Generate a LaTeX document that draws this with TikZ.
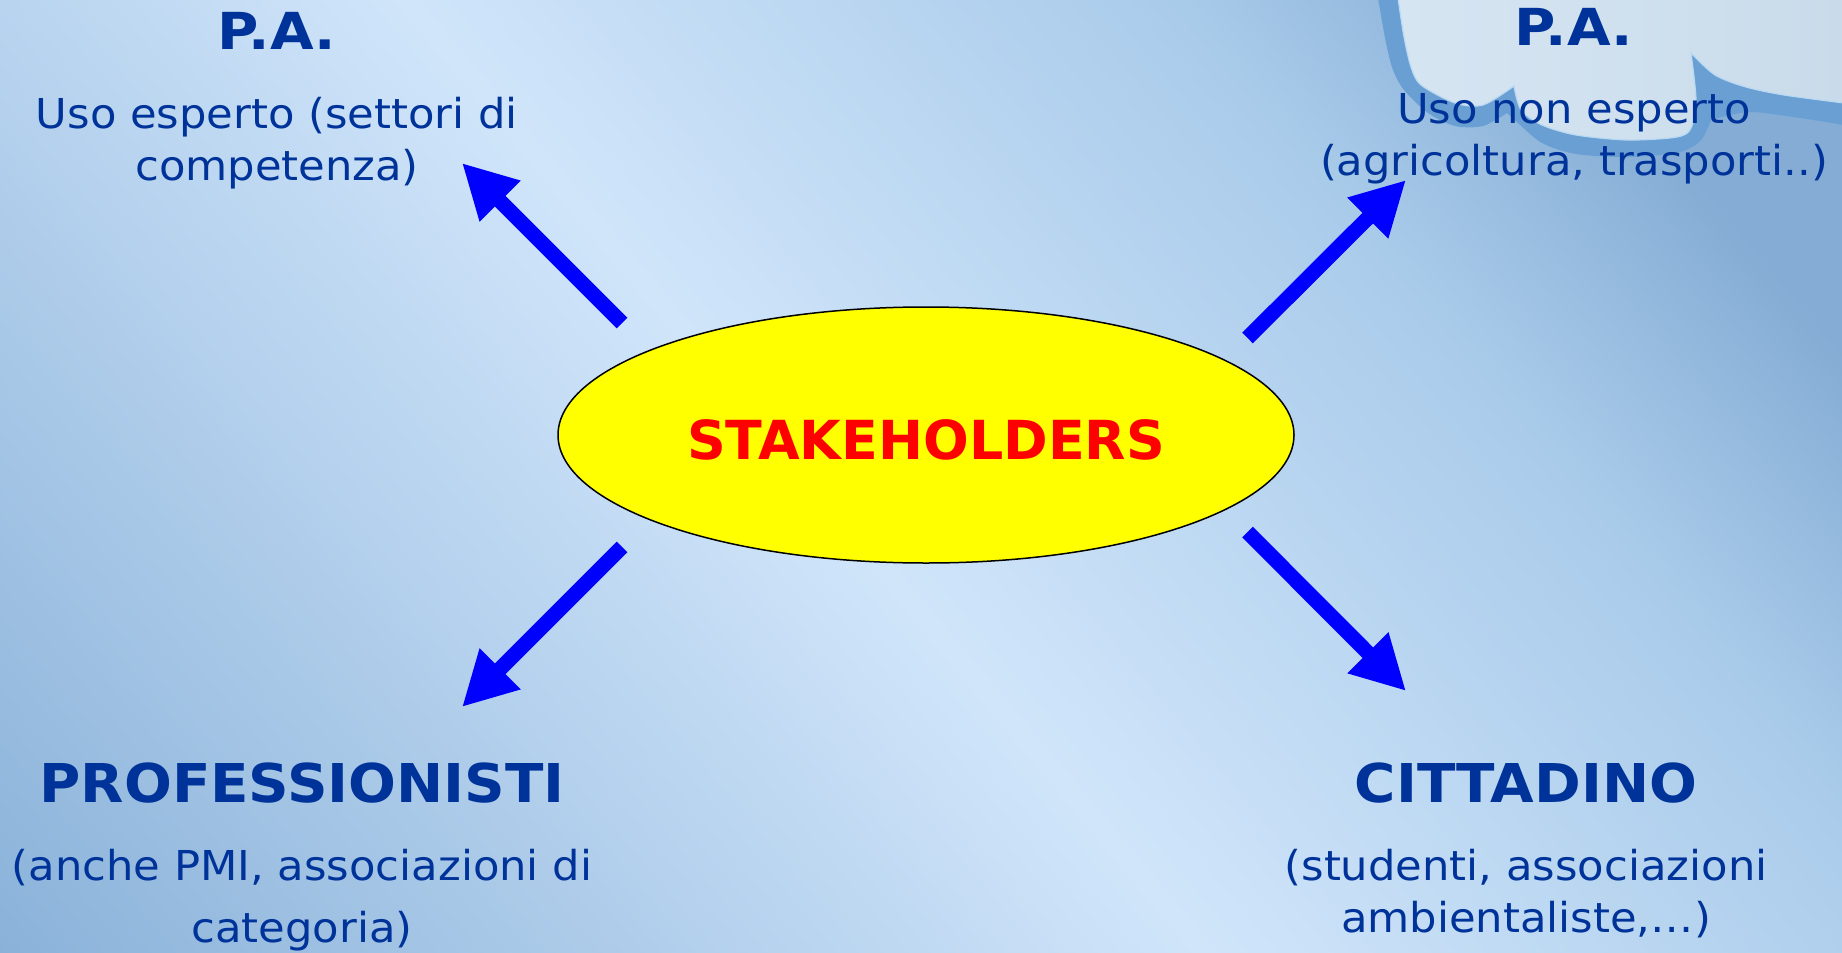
\documentclass[tikz,border=0pt]{standalone}
\usepackage{fontspec}
\setmainfont{DejaVu Sans}
\newfontfamily\headfont{DejaVu Sans Bold}[FakeStretch=1.105]
\newfontfamily\headfontb{DejaVu Sans Bold}[FakeStretch=1.053]
\newfontfamily\bodyfont{DejaVu Sans}[FakeStretch=1.05]
\usetikzlibrary{arrows.meta,shapes.geometric}
\definecolor{bgdarkA}{HTML}{8AB2D9}
\definecolor{bglight}{HTML}{D0E5FA}
\definecolor{bgmid}{HTML}{A9CBEA}
\definecolor{bgdarkB}{HTML}{84ACD4}
\definecolor{inkblue}{HTML}{003399}
\definecolor{cloudband}{HTML}{6A9FD3}
\definecolor{cloudedge}{HTML}{B9D9F2}
\definecolor{cloudA}{HTML}{D6E5F2}
\definecolor{cloudB}{HTML}{C9DBEA}
\definecolor{hubyellow}{RGB}{255,255,0}
\definecolor{hubred}{RGB}{255,0,0}
\definecolor{flowblue}{RGB}{0,0,255}
\pgfdeclarehorizontalshading{bgsh}{100bp}{color(0bp)=(bgdarkA);color(25bp)=(bgdarkA);color(47.8bp)=(bglight);color(62.4bp)=(bgmid);color(69.5bp)=(bgdarkB);color(75bp)=(bgdarkB);color(100bp)=(bgdarkB)}
\tikzset{
  head/.style={font=\fontsize{25.5}{30}\headfont\selectfont,text=inkblue,inner sep=0pt,anchor=base},
  headb/.style={font=\fontsize{26.75}{30}\headfontb\selectfont,text=inkblue,inner sep=0pt,anchor=base},
  body/.style={font=\fontsize{20.6}{26}\bodyfont\selectfont,text=inkblue,inner sep=0pt,align=center,anchor=base},
  flow/.style={draw=flowblue,line width=7.5pt,-{Triangle[length=27pt,width=27pt]},shorten >=0pt},
}
\begin{document}
\begin{tikzpicture}[x=0.5pt,y=-0.5pt]
\useasboundingbox (0,0) rectangle (1842,953);
\begin{scope}
\clip (0,0) rectangle (1842,953);
\begin{scope}[transform canvas={rotate around={40:(0,0)}}]
\shade[shading=bgsh] (-613,-2300) rectangle (1411,2300);
\end{scope}
\fill[cloudband] plot[smooth,tension=.5] coordinates {(1378,-2) (1386,43) (1393,70) (1404,90) (1428,113) (1455,126) (1483,126) (1507,113)}
  -- plot[smooth,tension=.5] coordinates {(1507,113) (1518,123) (1542,143) (1576,154) (1628,157) (1680,152) (1701,140) (1711,120)}
  -- plot[smooth,tension=.5] coordinates {(1711,120) (1749,112) (1800,118) (1844,125)}
  -- (1844,-2) -- cycle;
\shade[left color=cloudA,right color=cloudB,draw=cloudedge,line width=.6pt]
  plot[smooth,tension=.5] coordinates {(1398,-2) (1404,37) (1411,67) (1421,85) (1455,103) (1483,105) (1514,86)}
  -- plot[smooth,tension=.5] coordinates {(1514,86) (1521,110) (1542,125) (1576,135) (1628,140) (1677,137) (1691,128) (1696,100) (1691,53)}
  -- plot[smooth,tension=.5] coordinates {(1691,53) (1715,75) (1746,87) (1784,95) (1844,103)}
  -- (1844,-2) -- cycle;
\end{scope}

\node[ellipse,draw=black,line width=.75pt,fill=hubyellow,minimum width=368pt,minimum height=128pt,inner sep=0pt,
      font=\fontsize{26.9}{30}\selectfont\bfseries,text=hubred] (hub) at (926,435)
      {\raisebox{-12pt}[0pt][0pt]{STAKEHOLDERS}};

\node[head] (paL) at (277,49) {P.A.};
\node[body] (paLt) at (277,180) {Uso esperto (settori di\\competenza)};
\node[head] (paR) at (1574,45) {P.A.};
\node[body] (paRt) at (1574,175) {Uso non esperto\\(agricoltura, trasporti..)};
\node[headb] (prof) at (302,802) {PROFESSIONISTI};
\node[body,font=\fontsize{20.6}{31}\bodyfont\selectfont] (proft) at (302,942) {(anche PMI, associazioni di\\categoria)};
\node[headb] (citt) at (1526,802) {CITTADINO};
\node[body] (cittt) at (1526,932) {(studenti, associazioni\\ambientaliste,…)};

\coordinate (tTL) at (622,323); \coordinate (eTL) at (462,163);
\coordinate (tTR) at (1247.5,338); \coordinate (eTR) at (1406,180);
\coordinate (tBL) at (622,547); \coordinate (eBL) at (462,707);
\coordinate (tBR) at (1247.5,532); \coordinate (eBR) at (1406,691);
\draw[flow] (tTL) -- (eTL);
\draw[flow] (tTR) -- (eTR);
\draw[flow] (tBL) -- (eBL);
\draw[flow] (tBR) -- (eBR);
\end{tikzpicture}
\end{document}
